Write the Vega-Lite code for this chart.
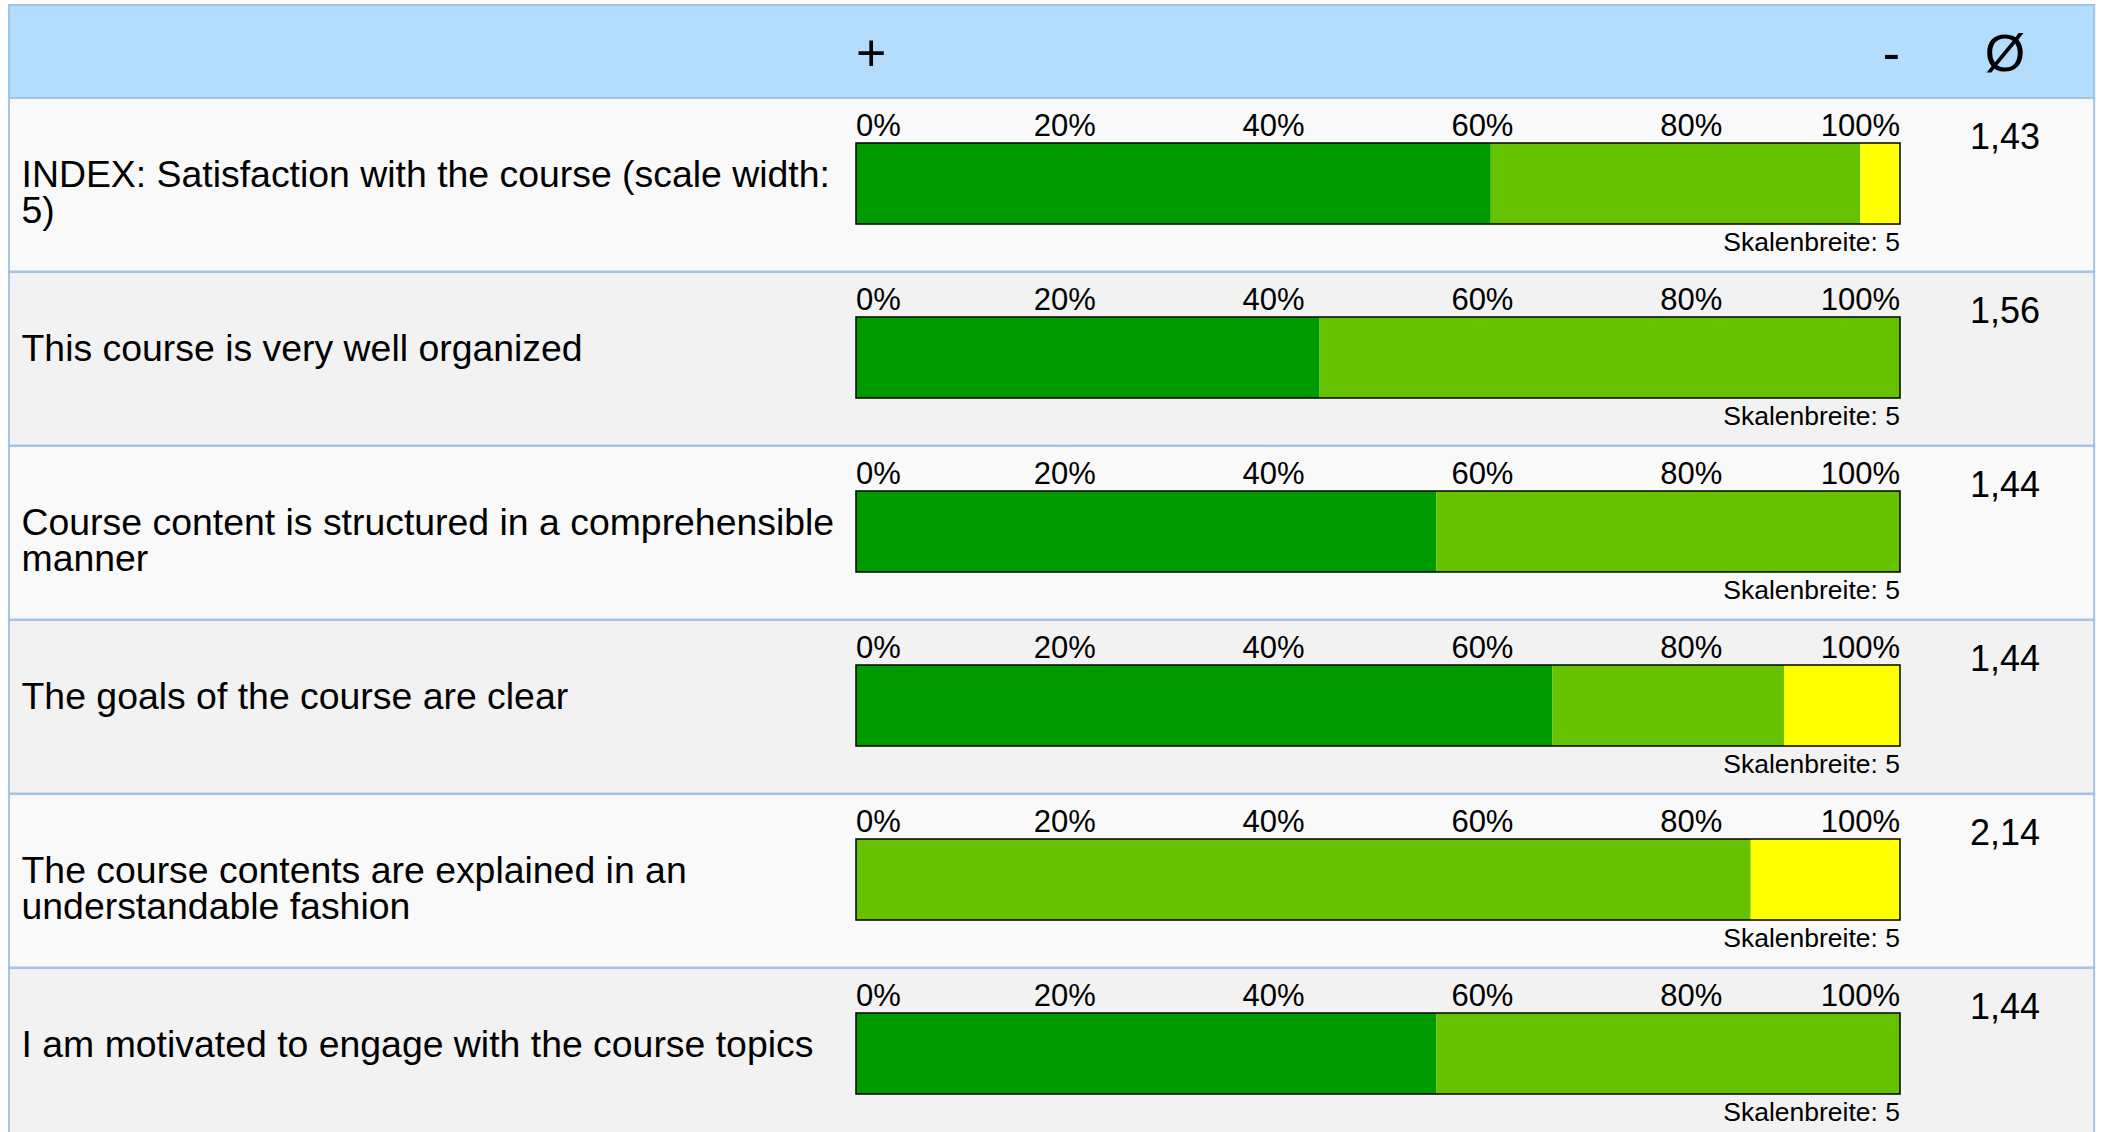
{
  "$schema": "https://vega.github.io/schema/vega-lite/v6.json",
  "background": "#ffffff",
  "padding": {"left": 8, "top": 4, "right": 7, "bottom": 0},
  "config": {
    "font": "Liberation Sans",
    "view": {"stroke": null},
    "locale": {"number": {"decimal": ",", "thousands": ".", "grouping": [3], "currency": ["", " €"]}}
  },
  "datasets": {
    "items": [
      {"n": 1, "label": "INDEX: Satisfaction with the course (scale width:\n5)", "p1": 60.8, "p2": 35.4, "p3": 3.8, "mean": 1.43},
      {"n": 2, "label": "This course is very well organized", "p1": 44.4, "p2": 55.6, "p3": 0, "mean": 1.56},
      {"n": 3, "label": "Course content is structured in a comprehensible\nmanner", "p1": 55.6, "p2": 44.4, "p3": 0, "mean": 1.44},
      {"n": 4, "label": "The goals of the course are clear", "p1": 66.7, "p2": 22.2, "p3": 11.1, "mean": 1.44},
      {"n": 5, "label": "The course contents are explained in an\nunderstandable fashion", "p1": 0, "p2": 85.7, "p3": 14.3, "mean": 2.14},
      {"n": 6, "label": "I am motivated to engage with the course topics", "p1": 55.6, "p2": 44.4, "p3": 0, "mean": 1.44}
    ],
    "ticks": [
      {"t": 0, "lab": "0%"}, {"t": 20, "lab": "20%"}, {"t": 40, "lab": "40%"},
      {"t": 60, "lab": "60%"}, {"t": 80, "lab": "80%"}, {"t": 100, "lab": "100%"}
    ]
  },
  "data": {"name": "items"},
  "spacing": 0,
  "bounds": "flush",
  "vconcat": [
    {
      "width": 1044,
      "height": 93,
      "data": {"values": [{"part": "header"}]},
      "layer": [
        {
          "mark": {"type": "rect", "fill": "#b4dcfd", "stroke": "#a3c4e4", "strokeWidth": 2},
          "encoding": {
            "x": {"datum": -81.13, "scale": {"domain": [0, 100], "nice": false, "zero": false}, "axis": null},
            "x2": {"datum": 118.6},
            "y": {"value": 0},
            "y2": {"value": "height"}
          }
        },
        {
          "mark": {"type": "text", "text": "+", "align": "left", "baseline": "alphabetic", "fontSize": 52, "color": "#000000"},
          "encoding": {"x": {"datum": 0, "axis": null}, "y": {"value": 66}}
        },
        {
          "mark": {"type": "text", "text": "-", "align": "right", "baseline": "alphabetic", "fontSize": 52, "color": "#000000"},
          "encoding": {"x": {"datum": 100, "axis": null}, "y": {"value": 66}}
        },
        {
          "mark": {"type": "text", "text": "Ø", "align": "center", "baseline": "alphabetic", "fontSize": 52, "color": "#000000"},
          "encoding": {"x": {"datum": 110.06, "axis": null}, "y": {"value": 66}}
        }
      ]
    },
    {
      "width": 1044, "height": 173.4,
      "transform": [{"filter": "datum.n == 1"}],
      "layer": [
        {"mark": {"type": "rect", "stroke": "#a3c4e4", "strokeWidth": 2},
         "encoding": {"x": {"datum": -81.13, "axis": null}, "x2": {"datum": 118.6}, "y": {"value": 0}, "y2": {"value": "height"},
           "fill": {"condition": {"test": "datum.n % 2 == 0", "value": "#f2f2f2"}, "value": "#f9f9f9"}}},
        {"transform": [{"fold": ["p1", "p2", "p3"], "as": ["cat", "pct"]}],
         "mark": {"type": "bar"},
         "encoding": {
           "x": {"field": "pct", "type": "quantitative", "stack": "zero", "scale": {"domain": [0, 100], "nice": false, "zero": false}, "axis": null},
           "y": {"field": "label", "type": "nominal", "axis": null, "scale": {"paddingInner": 0, "paddingOuter": 0.5704, "align": 0.487}},
           "color": {"field": "cat", "type": "nominal", "scale": {"domain": ["p1", "p2", "p3"], "range": ["#009900", "#66c200", "#ffff00"]}, "legend": null}}},
        {"mark": {"type": "rect", "fillOpacity": 0, "stroke": "#000000", "strokeWidth": 1.5},
         "encoding": {"x": {"datum": 0, "axis": null}, "x2": {"datum": 100}, "y": {"field": "label", "type": "nominal", "axis": null}}},
        {"data": {"name": "ticks"}, "transform": [{"filter": "datum.t == 0"}],
         "mark": {"type": "text", "align": "left", "baseline": "alphabetic", "fontSize": 31, "color": "#000000"},
         "encoding": {"x": {"field": "t", "type": "quantitative", "axis": null}, "y": {"value": 38}, "text": {"field": "lab"}}},
        {"data": {"name": "ticks"}, "transform": [{"filter": "datum.t > 0 && datum.t < 100"}],
         "mark": {"type": "text", "align": "center", "baseline": "alphabetic", "fontSize": 31, "color": "#000000"},
         "encoding": {"x": {"field": "t", "type": "quantitative", "axis": null}, "y": {"value": 38}, "text": {"field": "lab"}}},
        {"data": {"name": "ticks"}, "transform": [{"filter": "datum.t == 100"}],
         "mark": {"type": "text", "align": "right", "baseline": "alphabetic", "fontSize": 31, "color": "#000000"},
         "encoding": {"x": {"field": "t", "type": "quantitative", "axis": null}, "y": {"value": 38}, "text": {"field": "lab"}}},
        {"mark": {"type": "text", "align": "left", "baseline": "alphabetic", "fontSize": 37.4, "lineHeight": 36, "lineBreak": "\n", "color": "#000000"},
         "encoding": {"x": {"datum": -79.93, "axis": null}, "y": {"field": "label", "type": "nominal", "bandPosition": 0.543, "axis": null}, "text": {"field": "label"}}},
        {"mark": {"type": "text", "align": "center", "baseline": "alphabetic", "fontSize": 36, "color": "#000000"},
         "encoding": {"x": {"datum": 110.06, "axis": null}, "y": {"field": "label", "type": "nominal", "bandPosition": 0.074, "axis": null}, "text": {"field": "mean", "type": "quantitative", "format": ".2f"}}},
        {"mark": {"type": "text", "text": "Skalenbreite: 5", "align": "right", "baseline": "alphabetic", "fontSize": 26.5, "color": "#000000"},
         "encoding": {"x": {"datum": 100, "axis": null}, "y": {"field": "label", "type": "nominal", "bandPosition": 1.333, "axis": null}}}
      ]
    },
    {
      "width": 1044, "height": 173.4,
      "transform": [{"filter": "datum.n == 2"}],
      "layer": [
        {"mark": {"type": "rect", "stroke": "#a3c4e4", "strokeWidth": 2},
         "encoding": {"x": {"datum": -81.13, "axis": null}, "x2": {"datum": 118.6}, "y": {"value": 0}, "y2": {"value": "height"},
           "fill": {"condition": {"test": "datum.n % 2 == 0", "value": "#f2f2f2"}, "value": "#f9f9f9"}}},
        {"transform": [{"fold": ["p1", "p2", "p3"], "as": ["cat", "pct"]}],
         "mark": {"type": "bar"},
         "encoding": {
           "x": {"field": "pct", "type": "quantitative", "stack": "zero", "scale": {"domain": [0, 100], "nice": false, "zero": false}, "axis": null},
           "y": {"field": "label", "type": "nominal", "axis": null, "scale": {"paddingInner": 0, "paddingOuter": 0.5704, "align": 0.487}},
           "color": {"field": "cat", "type": "nominal", "scale": {"domain": ["p1", "p2", "p3"], "range": ["#009900", "#66c200", "#ffff00"]}, "legend": null}}},
        {"mark": {"type": "rect", "fillOpacity": 0, "stroke": "#000000", "strokeWidth": 1.5},
         "encoding": {"x": {"datum": 0, "axis": null}, "x2": {"datum": 100}, "y": {"field": "label", "type": "nominal", "axis": null}}},
        {"data": {"name": "ticks"}, "transform": [{"filter": "datum.t == 0"}],
         "mark": {"type": "text", "align": "left", "baseline": "alphabetic", "fontSize": 31, "color": "#000000"},
         "encoding": {"x": {"field": "t", "type": "quantitative", "axis": null}, "y": {"value": 38}, "text": {"field": "lab"}}},
        {"data": {"name": "ticks"}, "transform": [{"filter": "datum.t > 0 && datum.t < 100"}],
         "mark": {"type": "text", "align": "center", "baseline": "alphabetic", "fontSize": 31, "color": "#000000"},
         "encoding": {"x": {"field": "t", "type": "quantitative", "axis": null}, "y": {"value": 38}, "text": {"field": "lab"}}},
        {"data": {"name": "ticks"}, "transform": [{"filter": "datum.t == 100"}],
         "mark": {"type": "text", "align": "right", "baseline": "alphabetic", "fontSize": 31, "color": "#000000"},
         "encoding": {"x": {"field": "t", "type": "quantitative", "axis": null}, "y": {"value": 38}, "text": {"field": "lab"}}},
        {"mark": {"type": "text", "align": "left", "baseline": "alphabetic", "fontSize": 37.4, "lineHeight": 36, "lineBreak": "\n", "color": "#000000"},
         "encoding": {"x": {"datum": -79.93, "axis": null}, "y": {"field": "label", "type": "nominal", "bandPosition": 0.543, "axis": null}, "text": {"field": "label"}}},
        {"mark": {"type": "text", "align": "center", "baseline": "alphabetic", "fontSize": 36, "color": "#000000"},
         "encoding": {"x": {"datum": 110.06, "axis": null}, "y": {"field": "label", "type": "nominal", "bandPosition": 0.074, "axis": null}, "text": {"field": "mean", "type": "quantitative", "format": ".2f"}}},
        {"mark": {"type": "text", "text": "Skalenbreite: 5", "align": "right", "baseline": "alphabetic", "fontSize": 26.5, "color": "#000000"},
         "encoding": {"x": {"datum": 100, "axis": null}, "y": {"field": "label", "type": "nominal", "bandPosition": 1.333, "axis": null}}}
      ]
    },
    {
      "width": 1044, "height": 173.4,
      "transform": [{"filter": "datum.n == 3"}],
      "layer": [
        {"mark": {"type": "rect", "stroke": "#a3c4e4", "strokeWidth": 2},
         "encoding": {"x": {"datum": -81.13, "axis": null}, "x2": {"datum": 118.6}, "y": {"value": 0}, "y2": {"value": "height"},
           "fill": {"condition": {"test": "datum.n % 2 == 0", "value": "#f2f2f2"}, "value": "#f9f9f9"}}},
        {"transform": [{"fold": ["p1", "p2", "p3"], "as": ["cat", "pct"]}],
         "mark": {"type": "bar"},
         "encoding": {
           "x": {"field": "pct", "type": "quantitative", "stack": "zero", "scale": {"domain": [0, 100], "nice": false, "zero": false}, "axis": null},
           "y": {"field": "label", "type": "nominal", "axis": null, "scale": {"paddingInner": 0, "paddingOuter": 0.5704, "align": 0.487}},
           "color": {"field": "cat", "type": "nominal", "scale": {"domain": ["p1", "p2", "p3"], "range": ["#009900", "#66c200", "#ffff00"]}, "legend": null}}},
        {"mark": {"type": "rect", "fillOpacity": 0, "stroke": "#000000", "strokeWidth": 1.5},
         "encoding": {"x": {"datum": 0, "axis": null}, "x2": {"datum": 100}, "y": {"field": "label", "type": "nominal", "axis": null}}},
        {"data": {"name": "ticks"}, "transform": [{"filter": "datum.t == 0"}],
         "mark": {"type": "text", "align": "left", "baseline": "alphabetic", "fontSize": 31, "color": "#000000"},
         "encoding": {"x": {"field": "t", "type": "quantitative", "axis": null}, "y": {"value": 38}, "text": {"field": "lab"}}},
        {"data": {"name": "ticks"}, "transform": [{"filter": "datum.t > 0 && datum.t < 100"}],
         "mark": {"type": "text", "align": "center", "baseline": "alphabetic", "fontSize": 31, "color": "#000000"},
         "encoding": {"x": {"field": "t", "type": "quantitative", "axis": null}, "y": {"value": 38}, "text": {"field": "lab"}}},
        {"data": {"name": "ticks"}, "transform": [{"filter": "datum.t == 100"}],
         "mark": {"type": "text", "align": "right", "baseline": "alphabetic", "fontSize": 31, "color": "#000000"},
         "encoding": {"x": {"field": "t", "type": "quantitative", "axis": null}, "y": {"value": 38}, "text": {"field": "lab"}}},
        {"mark": {"type": "text", "align": "left", "baseline": "alphabetic", "fontSize": 37.4, "lineHeight": 36, "lineBreak": "\n", "color": "#000000"},
         "encoding": {"x": {"datum": -79.93, "axis": null}, "y": {"field": "label", "type": "nominal", "bandPosition": 0.543, "axis": null}, "text": {"field": "label"}}},
        {"mark": {"type": "text", "align": "center", "baseline": "alphabetic", "fontSize": 36, "color": "#000000"},
         "encoding": {"x": {"datum": 110.06, "axis": null}, "y": {"field": "label", "type": "nominal", "bandPosition": 0.074, "axis": null}, "text": {"field": "mean", "type": "quantitative", "format": ".2f"}}},
        {"mark": {"type": "text", "text": "Skalenbreite: 5", "align": "right", "baseline": "alphabetic", "fontSize": 26.5, "color": "#000000"},
         "encoding": {"x": {"datum": 100, "axis": null}, "y": {"field": "label", "type": "nominal", "bandPosition": 1.333, "axis": null}}}
      ]
    },
    {
      "width": 1044, "height": 173.4,
      "transform": [{"filter": "datum.n == 4"}],
      "layer": [
        {"mark": {"type": "rect", "stroke": "#a3c4e4", "strokeWidth": 2},
         "encoding": {"x": {"datum": -81.13, "axis": null}, "x2": {"datum": 118.6}, "y": {"value": 0}, "y2": {"value": "height"},
           "fill": {"condition": {"test": "datum.n % 2 == 0", "value": "#f2f2f2"}, "value": "#f9f9f9"}}},
        {"transform": [{"fold": ["p1", "p2", "p3"], "as": ["cat", "pct"]}],
         "mark": {"type": "bar"},
         "encoding": {
           "x": {"field": "pct", "type": "quantitative", "stack": "zero", "scale": {"domain": [0, 100], "nice": false, "zero": false}, "axis": null},
           "y": {"field": "label", "type": "nominal", "axis": null, "scale": {"paddingInner": 0, "paddingOuter": 0.5704, "align": 0.487}},
           "color": {"field": "cat", "type": "nominal", "scale": {"domain": ["p1", "p2", "p3"], "range": ["#009900", "#66c200", "#ffff00"]}, "legend": null}}},
        {"mark": {"type": "rect", "fillOpacity": 0, "stroke": "#000000", "strokeWidth": 1.5},
         "encoding": {"x": {"datum": 0, "axis": null}, "x2": {"datum": 100}, "y": {"field": "label", "type": "nominal", "axis": null}}},
        {"data": {"name": "ticks"}, "transform": [{"filter": "datum.t == 0"}],
         "mark": {"type": "text", "align": "left", "baseline": "alphabetic", "fontSize": 31, "color": "#000000"},
         "encoding": {"x": {"field": "t", "type": "quantitative", "axis": null}, "y": {"value": 38}, "text": {"field": "lab"}}},
        {"data": {"name": "ticks"}, "transform": [{"filter": "datum.t > 0 && datum.t < 100"}],
         "mark": {"type": "text", "align": "center", "baseline": "alphabetic", "fontSize": 31, "color": "#000000"},
         "encoding": {"x": {"field": "t", "type": "quantitative", "axis": null}, "y": {"value": 38}, "text": {"field": "lab"}}},
        {"data": {"name": "ticks"}, "transform": [{"filter": "datum.t == 100"}],
         "mark": {"type": "text", "align": "right", "baseline": "alphabetic", "fontSize": 31, "color": "#000000"},
         "encoding": {"x": {"field": "t", "type": "quantitative", "axis": null}, "y": {"value": 38}, "text": {"field": "lab"}}},
        {"mark": {"type": "text", "align": "left", "baseline": "alphabetic", "fontSize": 37.4, "lineHeight": 36, "lineBreak": "\n", "color": "#000000"},
         "encoding": {"x": {"datum": -79.93, "axis": null}, "y": {"field": "label", "type": "nominal", "bandPosition": 0.543, "axis": null}, "text": {"field": "label"}}},
        {"mark": {"type": "text", "align": "center", "baseline": "alphabetic", "fontSize": 36, "color": "#000000"},
         "encoding": {"x": {"datum": 110.06, "axis": null}, "y": {"field": "label", "type": "nominal", "bandPosition": 0.074, "axis": null}, "text": {"field": "mean", "type": "quantitative", "format": ".2f"}}},
        {"mark": {"type": "text", "text": "Skalenbreite: 5", "align": "right", "baseline": "alphabetic", "fontSize": 26.5, "color": "#000000"},
         "encoding": {"x": {"datum": 100, "axis": null}, "y": {"field": "label", "type": "nominal", "bandPosition": 1.333, "axis": null}}}
      ]
    },
    {
      "width": 1044, "height": 173.4,
      "transform": [{"filter": "datum.n == 5"}],
      "layer": [
        {"mark": {"type": "rect", "stroke": "#a3c4e4", "strokeWidth": 2},
         "encoding": {"x": {"datum": -81.13, "axis": null}, "x2": {"datum": 118.6}, "y": {"value": 0}, "y2": {"value": "height"},
           "fill": {"condition": {"test": "datum.n % 2 == 0", "value": "#f2f2f2"}, "value": "#f9f9f9"}}},
        {"transform": [{"fold": ["p1", "p2", "p3"], "as": ["cat", "pct"]}],
         "mark": {"type": "bar"},
         "encoding": {
           "x": {"field": "pct", "type": "quantitative", "stack": "zero", "scale": {"domain": [0, 100], "nice": false, "zero": false}, "axis": null},
           "y": {"field": "label", "type": "nominal", "axis": null, "scale": {"paddingInner": 0, "paddingOuter": 0.5704, "align": 0.487}},
           "color": {"field": "cat", "type": "nominal", "scale": {"domain": ["p1", "p2", "p3"], "range": ["#009900", "#66c200", "#ffff00"]}, "legend": null}}},
        {"mark": {"type": "rect", "fillOpacity": 0, "stroke": "#000000", "strokeWidth": 1.5},
         "encoding": {"x": {"datum": 0, "axis": null}, "x2": {"datum": 100}, "y": {"field": "label", "type": "nominal", "axis": null}}},
        {"data": {"name": "ticks"}, "transform": [{"filter": "datum.t == 0"}],
         "mark": {"type": "text", "align": "left", "baseline": "alphabetic", "fontSize": 31, "color": "#000000"},
         "encoding": {"x": {"field": "t", "type": "quantitative", "axis": null}, "y": {"value": 38}, "text": {"field": "lab"}}},
        {"data": {"name": "ticks"}, "transform": [{"filter": "datum.t > 0 && datum.t < 100"}],
         "mark": {"type": "text", "align": "center", "baseline": "alphabetic", "fontSize": 31, "color": "#000000"},
         "encoding": {"x": {"field": "t", "type": "quantitative", "axis": null}, "y": {"value": 38}, "text": {"field": "lab"}}},
        {"data": {"name": "ticks"}, "transform": [{"filter": "datum.t == 100"}],
         "mark": {"type": "text", "align": "right", "baseline": "alphabetic", "fontSize": 31, "color": "#000000"},
         "encoding": {"x": {"field": "t", "type": "quantitative", "axis": null}, "y": {"value": 38}, "text": {"field": "lab"}}},
        {"mark": {"type": "text", "align": "left", "baseline": "alphabetic", "fontSize": 37.4, "lineHeight": 36, "lineBreak": "\n", "color": "#000000"},
         "encoding": {"x": {"datum": -79.93, "axis": null}, "y": {"field": "label", "type": "nominal", "bandPosition": 0.543, "axis": null}, "text": {"field": "label"}}},
        {"mark": {"type": "text", "align": "center", "baseline": "alphabetic", "fontSize": 36, "color": "#000000"},
         "encoding": {"x": {"datum": 110.06, "axis": null}, "y": {"field": "label", "type": "nominal", "bandPosition": 0.074, "axis": null}, "text": {"field": "mean", "type": "quantitative", "format": ".2f"}}},
        {"mark": {"type": "text", "text": "Skalenbreite: 5", "align": "right", "baseline": "alphabetic", "fontSize": 26.5, "color": "#000000"},
         "encoding": {"x": {"datum": 100, "axis": null}, "y": {"field": "label", "type": "nominal", "bandPosition": 1.333, "axis": null}}}
      ]
    },
    {
      "width": 1044, "height": 173.4,
      "transform": [{"filter": "datum.n == 6"}],
      "layer": [
        {"mark": {"type": "rect", "stroke": "#a3c4e4", "strokeWidth": 2},
         "encoding": {"x": {"datum": -81.13, "axis": null}, "x2": {"datum": 118.6}, "y": {"value": 0}, "y2": {"value": "height"},
           "fill": {"condition": {"test": "datum.n % 2 == 0", "value": "#f2f2f2"}, "value": "#f9f9f9"}}},
        {"transform": [{"fold": ["p1", "p2", "p3"], "as": ["cat", "pct"]}],
         "mark": {"type": "bar"},
         "encoding": {
           "x": {"field": "pct", "type": "quantitative", "stack": "zero", "scale": {"domain": [0, 100], "nice": false, "zero": false}, "axis": null},
           "y": {"field": "label", "type": "nominal", "axis": null, "scale": {"paddingInner": 0, "paddingOuter": 0.5704, "align": 0.487}},
           "color": {"field": "cat", "type": "nominal", "scale": {"domain": ["p1", "p2", "p3"], "range": ["#009900", "#66c200", "#ffff00"]}, "legend": null}}},
        {"mark": {"type": "rect", "fillOpacity": 0, "stroke": "#000000", "strokeWidth": 1.5},
         "encoding": {"x": {"datum": 0, "axis": null}, "x2": {"datum": 100}, "y": {"field": "label", "type": "nominal", "axis": null}}},
        {"data": {"name": "ticks"}, "transform": [{"filter": "datum.t == 0"}],
         "mark": {"type": "text", "align": "left", "baseline": "alphabetic", "fontSize": 31, "color": "#000000"},
         "encoding": {"x": {"field": "t", "type": "quantitative", "axis": null}, "y": {"value": 38}, "text": {"field": "lab"}}},
        {"data": {"name": "ticks"}, "transform": [{"filter": "datum.t > 0 && datum.t < 100"}],
         "mark": {"type": "text", "align": "center", "baseline": "alphabetic", "fontSize": 31, "color": "#000000"},
         "encoding": {"x": {"field": "t", "type": "quantitative", "axis": null}, "y": {"value": 38}, "text": {"field": "lab"}}},
        {"data": {"name": "ticks"}, "transform": [{"filter": "datum.t == 100"}],
         "mark": {"type": "text", "align": "right", "baseline": "alphabetic", "fontSize": 31, "color": "#000000"},
         "encoding": {"x": {"field": "t", "type": "quantitative", "axis": null}, "y": {"value": 38}, "text": {"field": "lab"}}},
        {"mark": {"type": "text", "align": "left", "baseline": "alphabetic", "fontSize": 37.4, "lineHeight": 36, "lineBreak": "\n", "color": "#000000"},
         "encoding": {"x": {"datum": -79.93, "axis": null}, "y": {"field": "label", "type": "nominal", "bandPosition": 0.543, "axis": null}, "text": {"field": "label"}}},
        {"mark": {"type": "text", "align": "center", "baseline": "alphabetic", "fontSize": 36, "color": "#000000"},
         "encoding": {"x": {"datum": 110.06, "axis": null}, "y": {"field": "label", "type": "nominal", "bandPosition": 0.074, "axis": null}, "text": {"field": "mean", "type": "quantitative", "format": ".2f"}}},
        {"mark": {"type": "text", "text": "Skalenbreite: 5", "align": "right", "baseline": "alphabetic", "fontSize": 26.5, "color": "#000000"},
         "encoding": {"x": {"datum": 100, "axis": null}, "y": {"field": "label", "type": "nominal", "bandPosition": 1.333, "axis": null}}}
      ]
    }
  ]
}
